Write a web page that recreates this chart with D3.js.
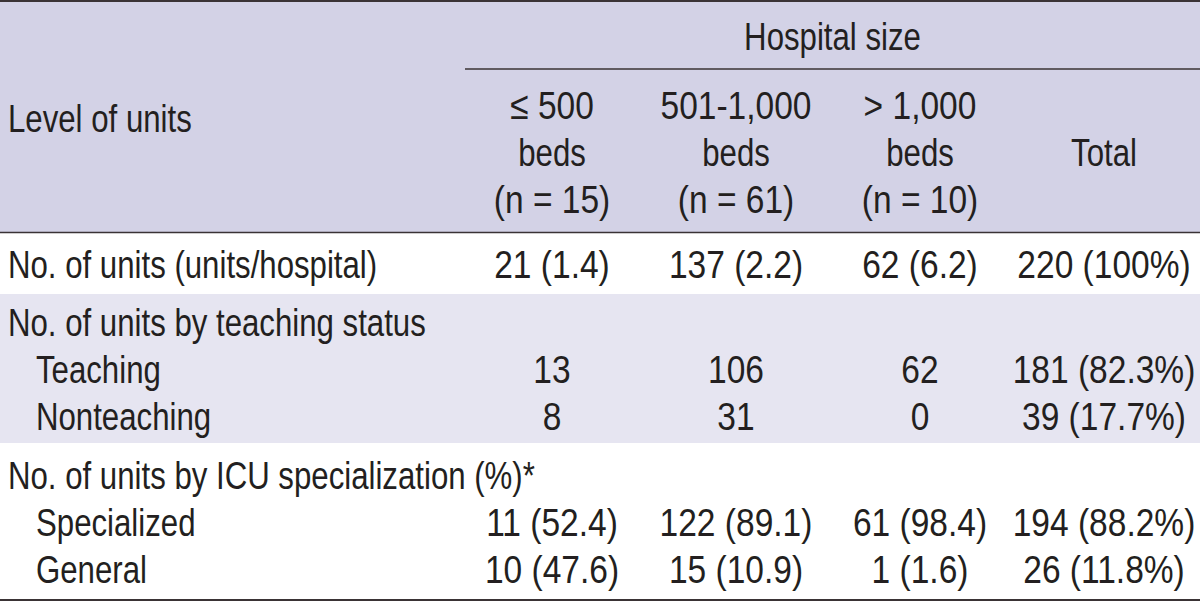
<!DOCTYPE html>
<html>
<head>
<meta charset="utf-8">
<script src="https://cdn.jsdelivr.net/npm/d3@7"></script>
<style>
  html, body { margin: 0; padding: 0; background: #ffffff; }
  svg { display: block; }
  text { font-family: "Liberation Sans", Arial, sans-serif; fill: #231f20; }
</style>
</head>
<body>
<div id="table"></div>
<script>
// Données du tableau
const spanner = "Hospital size";
const stubHeader = "Level of units";
const colKeys = ["le500", "mid", "gt1000", "total"];
const colHead1 = ["≤ 500", "501-1,000", "> 1,000", ""];
const colHead2 = ["beds", "beds", "beds", "Total"];
const colHead3 = ["(n = 15)", "(n = 61)", "(n = 10)", ""];

const rowLabels = [
  "No. of units (units/hospital)",
  "No. of units by teaching status",
  "Teaching",
  "Nonteaching",
  "No. of units by ICU specialization (%)*",
  "Specialized",
  "General"
];
const rowIndent = [0, 0, 1, 1, 0, 1, 1];
const rowSection = [0, 1, 1, 1, 2, 2, 2];

const valLe500 = ["21 (1.4)", "", "13", "8", "", "11 (52.4)", "10 (47.6)"];
const valMid = ["137 (2.2)", "", "106", "31", "", "122 (89.1)", "15 (10.9)"];
const valGt1000 = ["62 (6.2)", "", "62", "0", "", "61 (98.4)", "1 (1.6)"];
const valTotal = ["220 (100%)", "", "181 (82.3%)", "39 (17.7%)", "", "194 (88.2%)", "26 (11.8%)"];

//---------------------------------------------------------------------------------------

const width = 1200;
const height = 602;
const fontSize = 39;
const lineH = 47;
const capOff = 14.5; // décalage ligne de base / centre des majuscules
const squeezeTxt = 0.80; // police condensée simulée (texte)
const squeezeNum = 0.86; // police condensée simulée (chiffres)

const colors = {
  head: "#d3d2e6",
  band: "#e6e5f1",
  rule: "#3a3335"
};

// limites verticales : en-tête et sections
const headTop = 2, spanRule = 69, headBottom = 233;
const sectionY = [[233, 294], [294, 443], [443, 600]];

const svg = d3.select("#table")
  .append("svg")
  .attr("width", width)
  .attr("height", height)
  .attr("viewBox", [0, 0, width, height]);

// échelle des colonnes
const x = d3.scaleBand()
  .domain(colKeys)
  .range([460, 1196]);

const colValues = { le500: valLe500, mid: valMid, gt1000: valGt1000, total: valTotal };

// écriture d'un texte compressé horizontalement
const place = (sel, fx, fy, s) =>
  sel.attr("transform", (d, i) => `translate(${fx(d, i)},${fy(d, i)}) scale(${s},1)`);

//---------------------------------------------------------------------------------------

// Fonds
svg.append("rect")
  .attr("x", 0).attr("y", 0)
  .attr("width", width).attr("height", headBottom)
  .attr("fill", colors.head);

svg.append("g")
  .selectAll("rect")
  .data(sectionY)
  .join("rect")
  .attr("x", 0)
  .attr("y", d => d[0])
  .attr("width", width)
  .attr("height", d => d[1] - d[0])
  .attr("fill", (d, i) => i === 1 ? colors.band : "#ffffff");

// Filets
const rules = [
  { x1: 0, x2: width, y: 1, w: 2.2 },
  { x1: 465, x2: width, y: spanRule, w: 1.5 },
  { x1: 0, x2: width, y: headBottom - 0.5, w: 1.6 },
  { x1: 0, x2: width, y: 600, w: 2.2 }
];
svg.append("g")
  .selectAll("line")
  .data(rules)
  .join("line")
  .attr("x1", d => d.x1).attr("x2", d => d.x2)
  .attr("y1", d => d.y).attr("y2", d => d.y)
  .attr("stroke", colors.rule)
  .attr("stroke-width", d => d.w);

//---------------------------------------------------------------------------------------

// En-tête
const head = svg.append("g").attr("font-size", fontSize);

head.append("text")
  .datum(stubHeader)
  .call(place, () => 8, () => (headTop + headBottom) / 2 + capOff, squeezeTxt)
  .text(d => d);

head.append("text")
  .datum(spanner)
  .call(place, () => (465 + width) / 2, () => (headTop + spanRule) / 2 + capOff, squeezeTxt)
  .attr("text-anchor", "middle")
  .text(d => d);

const subMid = (spanRule + headBottom) / 2;
[colHead1, colHead2, colHead3].forEach((arr, li) => {
  head.append("g")
    .selectAll("text")
    .data(arr)
    .join("text")
    .call(place,
      (d, i) => x(colKeys[i]) + x.bandwidth() / 2,
      () => subMid + (li - 1) * lineH + capOff,
      li === 1 ? squeezeTxt : squeezeNum)
    .attr("text-anchor", "middle")
    .text(d => d);
});

//---------------------------------------------------------------------------------------

// Lignes du tableau : position verticale de chaque ligne dans sa section
const rowY = rowLabels.map((d, i) => {
  const s = rowSection[i];
  const members = rowSection.map((v, j) => v === s ? j : -1).filter(j => j >= 0);
  const k = members.indexOf(i);
  const mid = (sectionY[s][0] + sectionY[s][1]) / 2;
  return mid + (k - (members.length - 1) / 2) * lineH + capOff;
});

const body = svg.append("g").attr("font-size", fontSize);

body.append("g")
  .selectAll("text")
  .data(rowLabels)
  .join("text")
  .call(place, (d, i) => rowIndent[i] ? 36 : 8, (d, i) => rowY[i], squeezeTxt)
  .text(d => d);

colKeys.forEach(k => {
  body.append("g")
    .selectAll("text")
    .data(colValues[k])
    .join("text")
    .call(place, () => x(k) + x.bandwidth() / 2, (d, i) => rowY[i], squeezeNum)
    .attr("text-anchor", "middle")
    .text(d => d);
});
</script>
</body>
</html>
